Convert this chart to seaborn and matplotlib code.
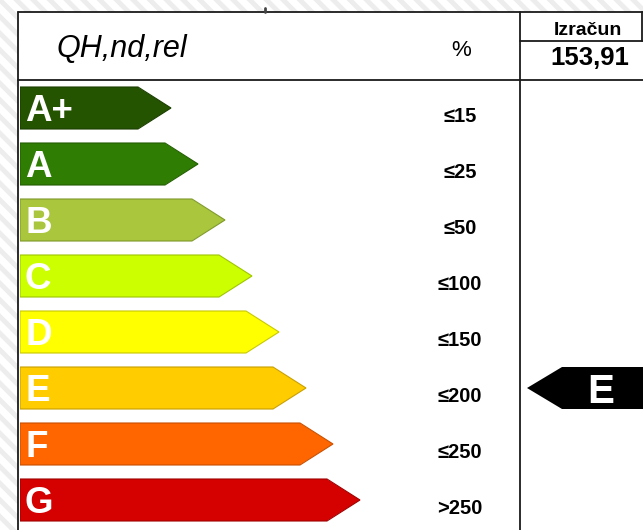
import matplotlib
matplotlib.use("Agg")
import matplotlib.pyplot as plt
import seaborn as sns
import pandas as pd
from matplotlib.patches import Polygon, Rectangle

# energy classes and their limits (QH,nd,rel in %)
classes = ['A+', 'A', 'B', 'C', 'D', 'E', 'F', 'G']
limits = ['≤15', '≤25', '≤50', '≤100', '≤150', '≤200', '≤250', '>250']
colors = ['#245400', '#2f7d03', '#a9c63c', '#ccff00', '#ffff00', '#ffcc00', '#ff6600', '#d50000']
edges = ['#1a3d00', '#235e02', '#7f9a2a', '#9fc400', '#c8c800', '#c89f00', '#c85000', '#a00000']

header_label = 'QH,nd,rel'
unit_label = '%'
result_title = 'Izračun'
result_value = '153,91'
result_class = 'E'

sns.set_theme(style='white')
plt.rcParams['font.family'] = ['Liberation Sans', 'DejaVu Sans']
plt.rcParams['text.color'] = 'black'
plt.rcParams['hatch.linewidth'] = 3.5

W, H = 643, 530
fig = plt.figure(figsize=(W / 100, H / 100), dpi=100)

# background + table frame, in pixel coordinates
ax = fig.add_axes([0, 0, 1, 1])
ax.set_xlim(0, W)
ax.set_ylim(H, 0)
ax.axis('off')
ax.add_patch(Rectangle((0, 0), W, H, facecolor='white', edgecolor='#ededed',
                       hatch='\\\\', linewidth=0))
ax.add_patch(Rectangle((18, 12), W - 18, H - 12, facecolor='white', linewidth=0))
line_kw = dict(color='#1a1a1a', linewidth=1.3)
ax.plot([18, W], [12, 12], **line_kw)
ax.plot([18, 18], [12, H], **line_kw)
ax.plot([519.5, 519.5], [12, H], **line_kw)
ax.plot([18, W], [80, 80], **line_kw)
ax.plot([519.5, W], [41, 41], **line_kw)
ax.plot([641.5, 641.5], [12, 41], **line_kw)
ax.plot([265, 265], [8, 12], color='#444444', linewidth=2)

ax.text(56, 57, header_label, fontsize=22, fontstyle='italic', ha='left', va='baseline')
ax.text(461, 56, unit_label, fontsize=16, ha='center', va='baseline')
ax.text(588, 35, result_title, fontsize=14, fontweight='bold', ha='center', va='baseline')
ax.text(590, 65, result_value, fontsize=18.5, fontweight='bold', ha='center', va='baseline')

# arrows area: x in pixels from left edge 20, y = class index
bax = fig.add_axes([20 / W, 0, (W - 20) / W, 450 / H])
bax.patch.set_alpha(0)
df = pd.DataFrame({'cls': classes, 'length': [118 + 27 * i for i in range(len(classes))]})
sns.barplot(data=df, x='length', y='cls', hue='cls', palette=colors, orient='h',
            width=0.75, linewidth=0, saturation=1, legend=False, ax=bax)
bax.set_xlim(0, W - 20)
bax.set_ylim(450 / 56 - 0.5, -0.5)
bax.axis('off')

half = 0.375
tip = 33
for i, (L, c, e) in enumerate(zip(df['length'], colors, edges)):
    bax.add_patch(Polygon([(L - 0.5, i - half), (L + tip, i), (L - 0.5, i + half)],
                          closed=True, facecolor=c, linewidth=0))
    bax.add_patch(Polygon([(0, i - half), (L, i - half), (L + tip, i), (L, i + half), (0, i + half)],
                          closed=True, fill=False, edgecolor=e, linewidth=0.8))
    bax.text(5, i + 0.24, classes[i], color='white', fontsize=26.5, fontweight='bold',
             ha='left', va='baseline')
    bax.text(440, i + 0.25, limits[i], fontsize=14.5, fontweight='bold',
             ha='center', va='baseline')

# calculated class marker
r = classes.index(result_class)
bax.add_patch(Polygon([(W - 20, r - half), (542, r - half), (507, r), (542, r + half), (W - 20, r + half)],
                      closed=True, facecolor='black', linewidth=0, clip_on=False))
bax.text(581, r + 0.26, result_class, color='white', fontsize=29, fontweight='bold',
         ha='center', va='baseline')

fig.savefig('out.png', dpi=100)
